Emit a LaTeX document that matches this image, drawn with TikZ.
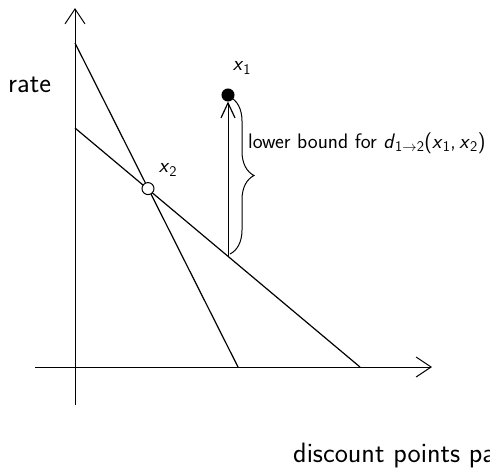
\documentclass[tikz,border=0pt]{standalone}
\usepackage{fontspec}
\renewcommand\familydefault{\sfdefault}
\usetikzlibrary{arrows.meta,decorations.pathreplacing}
\tikzset{
  axis/.style={line width=1pt,-{Straight Barb[length=15pt,width=20pt,line width=1pt]}},
  curve/.style={line width=1.2pt},
  lbl/.style={inner sep=0pt,font=\fontsize{21}{25}\selectfont},
  biglbl/.style={inner sep=0pt,font=\fontsize{28}{33}\selectfont},
  dot/.style={circle,draw,line width=1pt,minimum size=12pt,inner sep=0pt}
}
\begin{document}
\begin{tikzpicture}[x=1pt,y=-1pt]
\useasboundingbox (0,0) rectangle (490,469);
\coordinate (yb) at (75,405);
\coordinate (yt) at (75,8);
\coordinate (xl) at (35,367);
\coordinate (xr) at (432,367);
\coordinate (s1) at (75,43);
\coordinate (s2) at (238,367);
\coordinate (h1) at (75,128);
\coordinate (h2) at (360,367);
\coordinate (b) at (228,256.3);
\coordinate (bt) at (230,97);
\coordinate (bb) at (230,254);
\draw[axis] (yb) -- (yt);
\draw[axis] (xl) -- (xr);
\draw[curve] (s1) -- (s2);
\draw[curve] (h1) -- (h2);
\node[dot,fill=white] (x2) at (148,188.6) {};
\node[dot,fill=black] (x1) at (228,95) {};
\draw[line width=1pt,-{Straight Barb[length=15pt,width=14pt,line width=1.2pt]}] (b) -- (x1);
\draw[line width=1pt,decorate,decoration={brace,amplitude=24pt}] (bt) -- (bb);
\node[lbl,anchor=west] (lb) at (248,143) {lower bound for \textit{d}\textsubscript{1$\rightarrow$2}(\textit{x}\textsubscript{1},\,\textit{x}\textsubscript{2})};
\node[lbl] (l1) at (242,68) {\textit{x}\textsubscript{1}};
\node[lbl] (l2) at (168,170) {\textit{x}\textsubscript{2}};
\node[biglbl,anchor=west] (rate) at (8,85) {rate};
\node[biglbl,anchor=base west] (disc) at (293,462) {discount points paid};
\end{tikzpicture}
\end{document}
